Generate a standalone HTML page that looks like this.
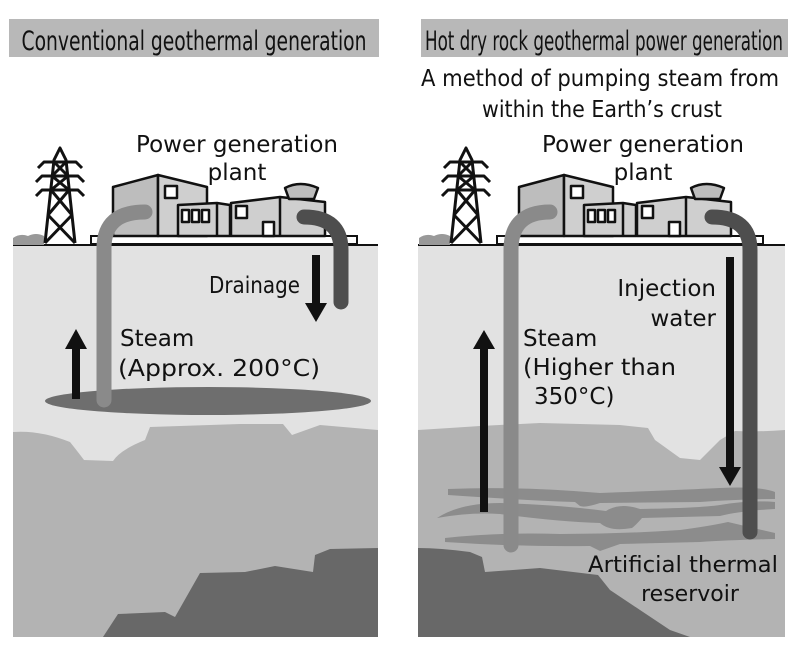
<!DOCTYPE html>
<html><head><meta charset="utf-8"><style>
html,body{margin:0;padding:0;background:#fff;}
svg{display:block;}
text{font-family:"DejaVu Sans","Liberation Sans",sans-serif;fill:#111;}
</style></head><body>
<svg width="800" height="652" viewBox="0 0 800 652" xmlns="http://www.w3.org/2000/svg">
<defs>
<g id="surf">
  <path d="M13 245 L13 238 Q20 233 28 236 Q36 232 44 236 L44 245 Z" fill="#999"/>
  <g stroke="#111" stroke-width="3" fill="none" stroke-linejoin="round">
    <path d="M45 243 L54 160 L60 148 L66 160 L75 243"/>
    <path d="M38 168 L44 162 L76 162 L82 168"/>
    <path d="M36 182 L42 176 L78 176 L84 182"/>
    <path d="M36 196 L42 190 L78 190 L84 196"/>
    <path d="M54 162 L68 176 M66 162 L52 176 M52 176 L69 190 M68 176 L51 190 M51 190 L72 215 M69 190 L48 215 M48 215 L75 243 M72 215 L45 243"/>
  </g>
  <rect x="91" y="236" width="266" height="8" fill="#fff" stroke="#111" stroke-width="2"/>
  <g stroke="#111" stroke-width="2.5" stroke-linejoin="round">
    <path d="M113 236 L113 187 L158 175 L158 236 Z" fill="#bdbdbd"/>
    <path d="M158 236 L158 175 L207 187 L207 236 Z" fill="#cfcfcf"/>
    <rect x="165" y="186" width="12" height="12" fill="#fff"/>
    <path d="M178 236 L178 205 L217 203 L230 205 L230 236 Z" fill="#cfcfcf"/>
    <line x1="217" y1="203" x2="217" y2="236"/>
    <rect x="182" y="210" width="7" height="12" fill="#fff"/>
    <rect x="192" y="210" width="7" height="12" fill="#fff"/>
    <rect x="202" y="210" width="7" height="12" fill="#fff"/>
    <path d="M231 236 L231 203 L280 197 L325 202 L325 236 Z" fill="#cfcfcf"/>
    <line x1="280" y1="197" x2="280" y2="236"/>
    <rect x="236" y="206" width="11" height="12" fill="#fff"/>
    <rect x="263" y="222" width="11" height="14" fill="#fff"/>
    <path d="M289 199 L285 188 Q300 180 318 188 L314 199 Z" fill="#bdbdbd"/>
  </g>
</g>
</defs>

<rect x="9" y="19" width="370" height="38" fill="#b8b8b8"/>
<text x="194" y="50" font-size="27" text-anchor="middle" textLength="345" lengthAdjust="spacingAndGlyphs">Conventional geothermal generation</text>
<rect x="421" y="19" width="367" height="38" fill="#b8b8b8"/>
<text x="604" y="50" font-size="27" text-anchor="middle" textLength="358" lengthAdjust="spacingAndGlyphs">Hot dry rock geothermal power generation</text>
<text x="600" y="86" font-size="23" text-anchor="middle" textLength="358" lengthAdjust="spacingAndGlyphs">A method of pumping steam from</text>
<text x="602" y="117" font-size="23" text-anchor="middle" textLength="240" lengthAdjust="spacingAndGlyphs">within the Earth’s crust</text>

<!-- LEFT PANEL -->
<rect x="13" y="245" width="365" height="392" fill="#e2e2e2"/>
<path d="M13 432 Q40 430 70 442 Q78 452 84 460 L113 461 Q120 450 145 440 L150 427 L240 424 L283 424 L292 435 L320 425 L378 430 L378 637 L13 637 Z" fill="#b3b3b3"/>
<path d="M103 637 L118 614 L165 612 L175 617 L200 573 L245 572 L275 566 L313 572 L315 555 L330 549 L378 548 L378 637 Z" fill="#686868"/>
<line x1="13" y1="245" x2="378" y2="245" stroke="#111" stroke-width="2"/>
<use href="#surf"/>
<ellipse cx="208" cy="401" rx="163" ry="14" fill="#6e6e6e"/>
<path d="M104 400 L104 248 Q104 212 145 212" fill="none" stroke="#8a8a8a" stroke-width="15" stroke-linecap="round"/>
<path d="M341 302 L341 250 Q341 217 304 217" fill="none" stroke="#4e4e4e" stroke-width="15" stroke-linecap="round"/>
<rect x="312" y="255" width="8" height="50" fill="#111"/>
<path d="M305 303 L327 303 L316 322 Z" fill="#111"/>
<rect x="72" y="347" width="8" height="52" fill="#111"/>
<path d="M65 349 L87 349 L76 329 Z" fill="#111"/>
<text x="237" y="152" font-size="23" text-anchor="middle">Power generation</text>
<text x="237" y="180" font-size="23" text-anchor="middle">plant</text>
<text x="209" y="293" font-size="23" textLength="91" lengthAdjust="spacingAndGlyphs">Drainage</text>
<text x="120" y="346" font-size="23">Steam</text>
<text x="118" y="376" font-size="23" textLength="202" lengthAdjust="spacingAndGlyphs">(Approx. 200°C)</text>

<!-- RIGHT PANEL -->
<rect x="418" y="245" width="367" height="392" fill="#e2e2e2"/>
<path d="M418 430 Q450 428 480 426 L540 423 L620 425 L648 428 L655 440 L680 458 L700 460 L720 440 L735 431 Q760 432 785 430 L785 637 L418 637 Z" fill="#b3b3b3"/>
<path d="M418 637 L418 548 Q440 548 470 552 L482 557 L485 572 L540 568 L598 575 L610 590 L640 610 L670 630 L690 637 Z" fill="#686868"/>
<line x1="418" y1="245" x2="785" y2="245" stroke="#111" stroke-width="2"/>
<use href="#surf" transform="translate(406,0)"/>
<g fill="#8c8c8c">
  <path d="M448 489 Q520 486 600 493 Q680 490 720 488 Q760 486 775 492 L775 499 Q740 499 700 502 L600 503 Q585 508 580 506 L575 502 Q520 500 448 495 Z"/>
  <path d="M437 518 Q460 503 500 503 Q560 505 606 511 Q620 502 640 509 Q700 508 720 505 Q750 500 775 502 L775 509 Q740 511 720 516 L642 518 Q636 525 632 528 Q610 532 600 523 Q560 522 500 514 Q470 512 437 518 Z"/>
  <path d="M445 538 Q500 532 560 534 Q620 534 680 530 Q710 526 728 522 L775 533 L775 539 Q730 540 700 542 L620 544 L600 551 L590 546 Q520 547 445 542 Z"/>
</g>
<path d="M511 545 L511 250 Q511 212 550 212" fill="none" stroke="#8a8a8a" stroke-width="15" stroke-linecap="round"/>
<path d="M750 532 L750 250 Q750 217 712 217" fill="none" stroke="#4e4e4e" stroke-width="15" stroke-linecap="round"/>
<rect x="726" y="257" width="8" height="212" fill="#111"/>
<path d="M719 467 L741 467 L730 486 Z" fill="#111"/>
<rect x="480" y="347" width="8" height="165" fill="#111"/>
<path d="M473 349 L495 349 L484 330 Z" fill="#111"/>
<text x="643" y="152" font-size="23" text-anchor="middle">Power generation</text>
<text x="643" y="180" font-size="23" text-anchor="middle">plant</text>
<text x="716" y="296" font-size="23" text-anchor="end">Injection</text>
<text x="716" y="326" font-size="23" text-anchor="end">water</text>
<text x="523" y="346" font-size="23">Steam</text>
<text x="523" y="375" font-size="23" textLength="153" lengthAdjust="spacingAndGlyphs">(Higher than</text>
<text x="534" y="404" font-size="23">350°C)</text>
<text x="778" y="572" font-size="22" text-anchor="end" textLength="190" lengthAdjust="spacingAndGlyphs">Artificial thermal</text>
<text x="690" y="601" font-size="22" text-anchor="middle">reservoir</text>
</svg>
</body></html>
